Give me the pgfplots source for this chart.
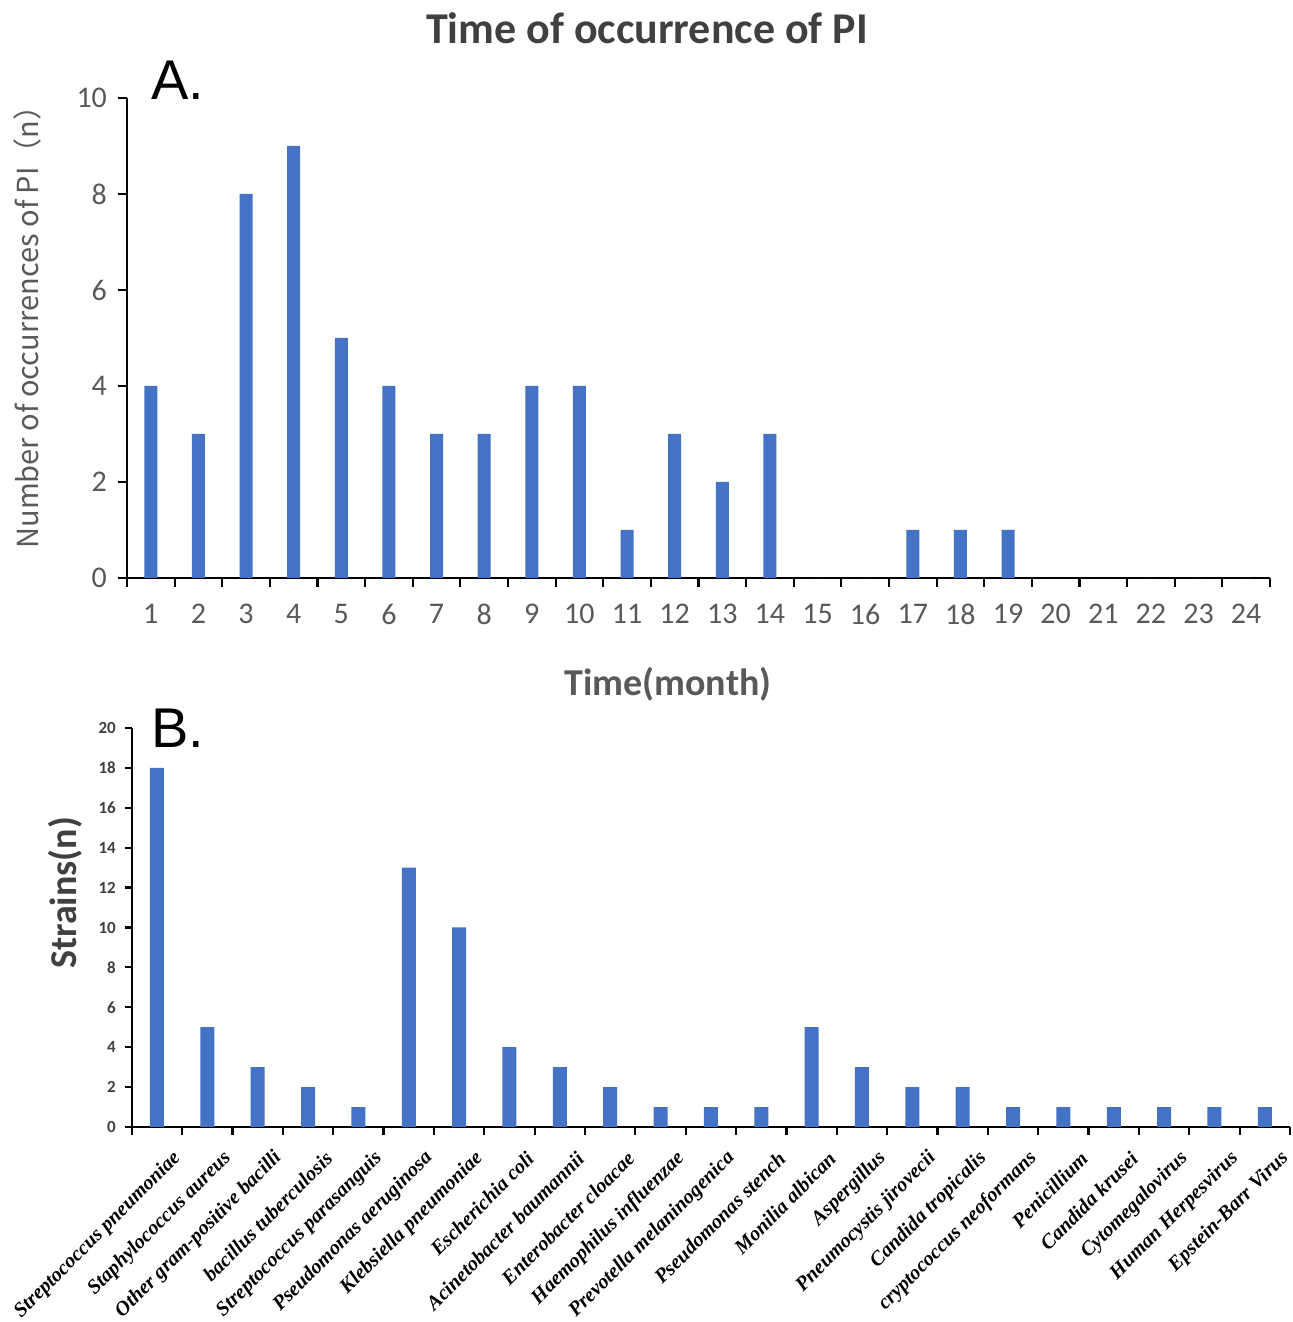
\documentclass[border=0pt]{standalone}
\usepackage{pgfplots}
\pgfplotsset{compat=1.18}
\usepackage{fontspec}
\setmainfont{Carlito}
\newfontfamily\labfont{Liberation Serif}
\newfontfamily\letterfont{Liberation Sans}
\newfontfamily\cjk{Noto Sans CJK SC}
\definecolor{barblue}{HTML}{4472C4}
\definecolor{tickgrey}{HTML}{595959}
\definecolor{darkgrey}{HTML}{404040}
\begin{document}
\begin{tikzpicture}
\path[use as bounding box] (0,0) rectangle (646.5pt,661pt);
% Title
\node[font=\bfseries\fontsize{22}{22}\selectfont, text=darkgrey] at (323.5pt,647pt) {Time of occurrence of PI};
\begin{axis}[
  at={(63.5pt,372pt)}, anchor=south west, scale only axis,
  width=571.5pt, height=240pt,
  xmin=0.5, xmax=24.5, ymin=0, ymax=10,
  axis x line*=bottom, axis y line*=left,
  axis line style={black, line width=1.1pt, -},
  xtick={1,...,24}, ytick={0,2,...,10},
  minor xtick={0.5,1.5,...,24.5},
  tick align=outside, major tick length=4.5pt, minor tick length=4.5pt,
  major x tick style={draw=none},
  every tick/.style={black, line width=1.1pt},
  minor tick style={black, line width=1.1pt},
  ticklabel style={font=\fontsize{15}{15}\selectfont, text=tickgrey},
  /pgf/number format/assume math mode=true,
  xticklabel style={yshift=-5pt},
  yticklabel style={xshift=-2pt},
  ybar, bar width=6.5pt,
]
\addplot[fill=barblue, draw=none, bar shift=0pt] coordinates {
(1,4) (2,3) (3,8) (4,9) (5,5) (6,4) (7,3) (8,3) (9,4) (10,4) (11,1) (12,3)
(13,2) (14,3) (15,0) (16,0) (17,1) (18,1) (19,1) (20,0) (21,0) (22,0) (23,0) (24,0)};
\end{axis}
\node[anchor=base west, font=\letterfont\fontsize{28}{28}\selectfont] at (72pt,611pt) {A.};
\node[rotate=90, font=\cjk\fontsize{14.5}{14.5}\selectfont, text=tickgrey] at (13.5pt,501pt) {Number of occurrences of PI（n）};
\node[font=\bfseries\fontsize{19}{19}\selectfont, text=tickgrey] at (334pt,319pt) {Time(month)};
\begin{axis}[
  at={(65.9pt,97.5pt)}, anchor=south west, scale only axis,
  width=579.1pt, height=199.5pt,
  xmin=-0.5, xmax=22.5, ymin=0, ymax=20,
  axis x line*=bottom, axis y line*=left,
  axis line style={black, line width=1.1pt, -},
  xtick={0,...,22}, ytick={0,2,...,20},
  minor xtick={-0.5,0.5,...,22.5},
  tick align=outside, major tick length=3.5pt, minor tick length=4pt,
  major x tick style={draw=none},
  every tick/.style={black, line width=1.1pt},
  minor tick style={black, line width=1.1pt},
  yticklabel style={font=\bfseries\fontsize{8.5}{8.5}\selectfont, text=darkgrey, xshift=-1pt},
  /pgf/number format/assume math mode=true,
  xticklabels={Streptococcus pneumoniae, Staphylococcus aureus, Other gram-positive bacilli, bacillus tuberculosis, Streptococcus parasanguis, Pseudomonas aeruginosa, Klebsiella pneumoniae, Escherichia coli, Acinetobacter baumannii, Enterobacter cloacae, Haemophilus influenzae, Prevotella melaninogenica, Pseudomonas stench, Monilia albican, Aspergillus, Pneumocystis jirovecii, Candida tropicalis, cryptococcus neoformans, Penicillium, Candida krusei, Cytomegalovirus, Human Herpesvirus, Epstein-Barr Virus},
  xticklabel style={xshift=10.5pt, yshift=-10.5pt, rotate=45, anchor=east, inner sep=0pt, font=\labfont\bfseries\itshape\fontsize{10.2}{10.2}\selectfont, text=black},
  ybar, bar width=7pt,
]
\addplot[fill=barblue, draw=none, bar shift=0pt] coordinates {
(0,18) (1,5) (2,3) (3,2) (4,1) (5,13) (6,10) (7,4) (8,3) (9,2) (10,1) (11,1)
(12,1) (13,5) (14,3) (15,2) (16,2) (17,1) (18,1) (19,1) (20,1) (21,1) (22,1)};
\end{axis}
\node[anchor=base west, font=\letterfont\fontsize{28}{28}\selectfont] at (72pt,287pt) {B.};
\node[rotate=90, font=\bfseries\fontsize{19}{19}\selectfont, text=darkgrey] at (32.5pt,214.5pt) {Strains(n)};
\end{tikzpicture}
\end{document}
